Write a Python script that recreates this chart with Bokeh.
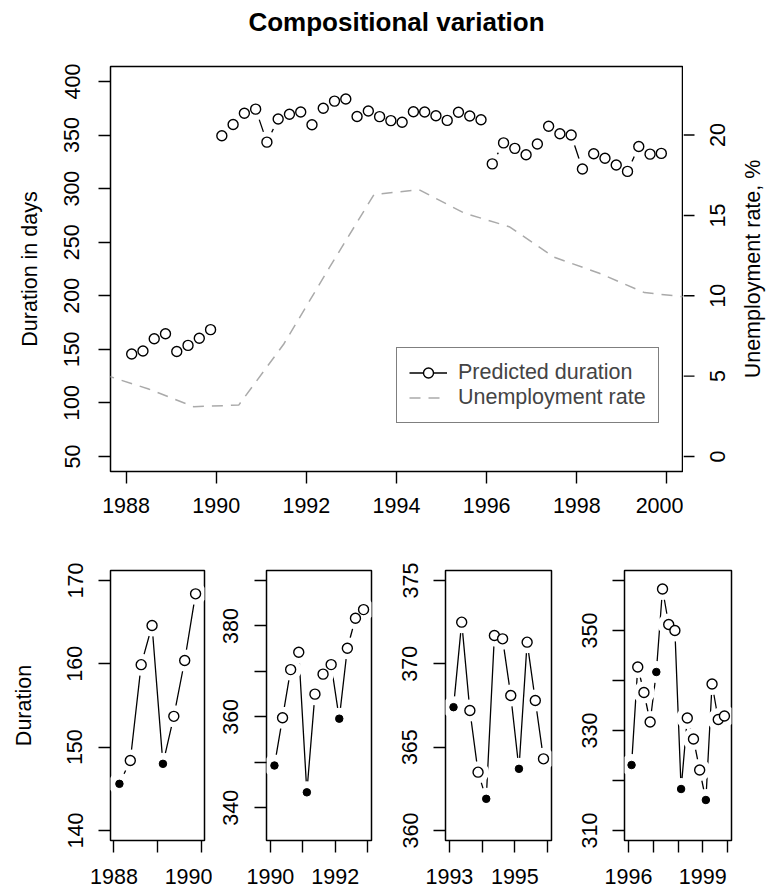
import math
from bokeh.plotting import figure
from bokeh.models import Range1d, FixedTicker, Legend, LegendItem
from bokeh.core.properties import value
from bokeh.layouts import column, row
from bokeh.embed import file_html
from bokeh.resources import INLINE

FONT = "Liberation Sans"
TICK_PX = "21.5px"
LAB_PX = "21.5px"

# ---------------- data ----------------
title_text = "Compositional variation"
quarter_offsets = [0.125, 0.375, 0.625, 0.875]   # mid-points of the quarters

years_a = [1988, 1989]
dur_a = [145.6, 148.4, 159.9, 164.6, 148.0, 153.7, 160.4, 168.4]
years_b = [1990, 1991, 1992]
dur_b = [349.3, 359.8, 370.4, 374.2, 343.4, 365.0, 369.4, 371.5, 359.6, 375.1, 381.7, 383.6]
years_c = [1993, 1994, 1995]
dur_c = [367.4, 372.5, 367.2, 363.5, 361.9, 371.7, 371.5, 368.1, 363.7, 371.3, 367.8, 364.3]
years_d = [1996, 1997, 1998, 1999]
dur_d = [323.1, 342.7, 337.6, 331.7, 341.7, 358.3, 351.2, 350.0, 318.3, 332.5, 328.3, 322.1, 316.1, 339.3, 332.2, 332.9]

unemp_years = [1987.5, 1988.5, 1989.5, 1990.5, 1991.5, 1992.5, 1993.5, 1994.5, 1995.5, 1996.5, 1997.5, 1998.5, 1999.5, 2000.5]
unemp_rate = [5.1, 4.2, 3.1, 3.2, 7.0, 11.7, 16.3, 16.6, 15.15, 14.3, 12.4, 11.4, 10.2, 9.9]

top_xticks = [1988, 1990, 1992, 1994, 1996, 1998, 2000]
top_yticks = [50, 100, 150, 200, 250, 300, 350, 400]
right_ticks = [0, 5, 10, 15, 20]
left_label = "Duration in days"
right_label = "Unemployment rate, %"
panel_label = "Duration"
legend_labels = ["Predicted duration", "Unemployment rate"]

groups = [(years_a, dur_a), (years_b, dur_b), (years_c, dur_c), (years_d, dur_d)]


def qtimes(years):
    return [y + q for y in years for q in quarter_offsets]


def padded(lo, hi):
    d = (hi - lo) * 0.04
    return lo - d, hi + d


def style_axis(ax, tick_standoff, label_standoff):
    ax.axis_line_color = None
    ax.major_tick_out = 12
    ax.major_tick_in = 0
    ax.minor_tick_out = 12
    ax.minor_tick_in = 0
    ax.major_tick_line_width = 1.4
    ax.minor_tick_line_width = 1.4
    ax.major_tick_line_color = "black"
    ax.minor_tick_line_color = "black"
    ax.major_label_text_font = FONT
    ax.major_label_text_font_size = TICK_PX
    ax.major_label_text_color = "black"
    ax.major_label_standoff = tick_standoff
    ax.axis_label_text_font = FONT
    ax.axis_label_text_font_size = LAB_PX
    ax.axis_label_text_font_style = "normal"
    ax.axis_label_text_color = "black"
    ax.axis_label_standoff = label_standoff


def style_fig(p, outline=True):
    p.xgrid.grid_line_color = None
    p.ygrid.grid_line_color = None
    p.outline_line_color = "black" if outline else None
    p.outline_line_width = 1.5
    p.outline_line_alpha = 1.0
    p.background_fill_color = "white"
    p.border_fill_color = "white"


def draw_b(p, xs, ys, filled_mask=None):
    """R type='b': line with gaps around each point."""
    ln = p.line(xs, ys, line_color="black", line_width=1.3)
    p.scatter(xs, ys, marker="circle", size=22, fill_color="white", line_color=None)
    if filled_mask is None:
        open_x, open_y, fx, fy = xs, ys, [], []
    else:
        open_x = [x for x, f in zip(xs, filled_mask) if not f]
        open_y = [y for y, f in zip(ys, filled_mask) if not f]
        fx = [x for x, f in zip(xs, filled_mask) if f]
        fy = [y for y, f in zip(ys, filled_mask) if f]
    circ = p.scatter(open_x, open_y, marker="circle", size=10, fill_color="white",
                     line_color="black", line_width=1.4)
    if fx:
        p.scatter(fx, fy, marker="circle", size=7.5, fill_color="black", line_color="black")
    return ln, circ


# ---------------- header (title) ----------------
HEAD_H = 44
header = figure(frame_width=774, frame_height=HEAD_H, min_border=0,
                x_range=Range1d(0, 774), y_range=Range1d(0, HEAD_H),
                x_axis_type=None, y_axis_type=None,
                output_backend="svg", toolbar_location=None)
style_fig(header, outline=False)
header.text(x=[396], y=[HEAD_H - 21], text=[title_text], text_align="center",
            text_baseline="middle", text_font=value(FONT), text_font_size=value("26px"),
            text_font_style="bold", text_color="black")

# ---------------- top chart ----------------
FW, FH = 572, 405
TOP_BORDER = 66 - HEAD_H
all_x = [t for ys, _ in groups for t in qtimes(ys)]
x_lo, x_hi = padded(min(all_x), max(all_x))
y_lo, y_hi = padded(50, 400)
u_range = Range1d((y_lo - 50) / 15.0, (y_hi - 50) / 15.0)   # right axis: 0% <-> 50 days, 20% <-> 350 days

top = figure(frame_width=FW, frame_height=FH,
             min_border_left=110, min_border_right=1, min_border_top=TOP_BORDER, min_border_bottom=69,
             x_range=Range1d(x_lo, x_hi), y_range=Range1d(y_lo, y_hi),
             output_backend="svg", toolbar_location=None)
style_fig(top)
top.extra_y_ranges = {"u": u_range}

top.xaxis.ticker = FixedTicker(ticks=top_xticks)
top.yaxis.ticker = FixedTicker(ticks=top_yticks)
top.yaxis.axis_label = left_label
top.yaxis.major_label_orientation = "parallel"
style_axis(top.xaxis[0], 14, 5)
style_axis(top.yaxis[0], 19, 20)

dash_r = top.line(unemp_years, unemp_rate, y_range_name="u", line_color="#AAAAAA",
                  line_width=1.5, line_dash="11 8")

leg_renderers = None
for yrs, durs in groups:
    ln, circ = draw_b(top, qtimes(yrs), durs)
    if leg_renderers is None:
        leg_renderers = [ln, circ]

legend = Legend(items=[LegendItem(label=legend_labels[0], renderers=leg_renderers),
                       LegendItem(label=legend_labels[1], renderers=[dash_r])],
                location=(286, 48))
legend.border_line_color = "black"
legend.border_line_width = 1.5
legend.background_fill_color = "white"
legend.background_fill_alpha = 1.0
legend.padding = 12
legend.spacing = 0
legend.margin = 0
legend.glyph_width = 38
legend.glyph_height = 25
legend.label_height = 25
legend.label_width = 180
legend.label_standoff = 11
legend.label_text_font = FONT
legend.label_text_font_size = TICK_PX
top.add_layout(legend)

# ---------------- right axis (unemployment), text reading bottom-to-top ----------------
SIDE_W = 774 - (110 + FW + 1)
side = figure(frame_width=SIDE_W, frame_height=FH,
              min_border_left=0, min_border_right=0, min_border_top=TOP_BORDER, min_border_bottom=69,
              x_range=Range1d(0, SIDE_W), y_range=u_range,
              x_axis_type=None, y_axis_type=None,
              output_backend="svg", toolbar_location=None)
style_fig(side, outline=False)
side.segment(x0=[0] * len(right_ticks), x1=[11] * len(right_ticks), y0=right_ticks, y1=right_ticks,
             line_color="black", line_width=1.4)
side.text(x=[34] * len(right_ticks), y=right_ticks, text=[str(t) for t in right_ticks],
          angle=math.pi / 2, text_align="center", text_baseline="middle",
          text_font=value(FONT), text_font_size=value(TICK_PX), text_color="black")
side.text(x=[69], y=[(u_range.start + u_range.end) / 2], text=[right_label],
          angle=math.pi / 2, text_align="center", text_baseline="middle",
          text_font=value(FONT), text_font_size=value(LAB_PX), text_color="black")

# ---------------- bottom panels ----------------
panel_specs = [
    # years, durations, xlim, ylim, x labelled, x unlabelled, y labelled, y unlabelled, borders (l, frame, r)
    (years_a, dur_a, (1988, 1990), (140, 170), [1988, 1990], [1989], [140, 150, 160, 170], [], (110, 94, 8)),
    (years_b, dur_b, (1990, 1993), (335, 390), [1990, 1992], [1991, 1993], [340, 360, 380], [350, 370, 390], (54, 105, 20)),
    (years_c, dur_c, (1993, 1996), (360, 375), [1993, 1995], [1994, 1996], [360, 365, 370, 375], [], (54, 106, 19)),
    (years_d, dur_d, (1996, 2000), (310, 360), [1996, 1999], [1997, 1998, 2000], [310, 330, 350], [320, 340, 360], (54, 107, 43)),
]

panels = []
for i, (yrs, durs, xl, yl, xt, xm, yt, ym, (bl, fw, br)) in enumerate(panel_specs):
    xs = qtimes(yrs)
    filled = [k % 4 == 0 for k in range(len(xs))]
    p = figure(frame_width=fw, frame_height=270,
               min_border_left=bl, min_border_right=br, min_border_top=30, min_border_bottom=52,
               x_range=Range1d(*padded(*xl)), y_range=Range1d(*padded(*yl)),
               output_backend="svg", toolbar_location=None)
    style_fig(p)
    p.xaxis.ticker = FixedTicker(ticks=xt, minor_ticks=xm)
    p.yaxis.ticker = FixedTicker(ticks=yt, minor_ticks=ym)
    p.yaxis.major_label_orientation = "parallel"
    style_axis(p.xaxis[0], 16, 5)
    style_axis(p.yaxis[0], 16, 29)
    if i == 0:
        p.yaxis.axis_label = panel_label
    draw_b(p, xs, durs, filled)
    panels.append(p)

layout = column(header, row(top, side), row(*panels))
open("out.html", "w").write(file_html(layout, INLINE))
